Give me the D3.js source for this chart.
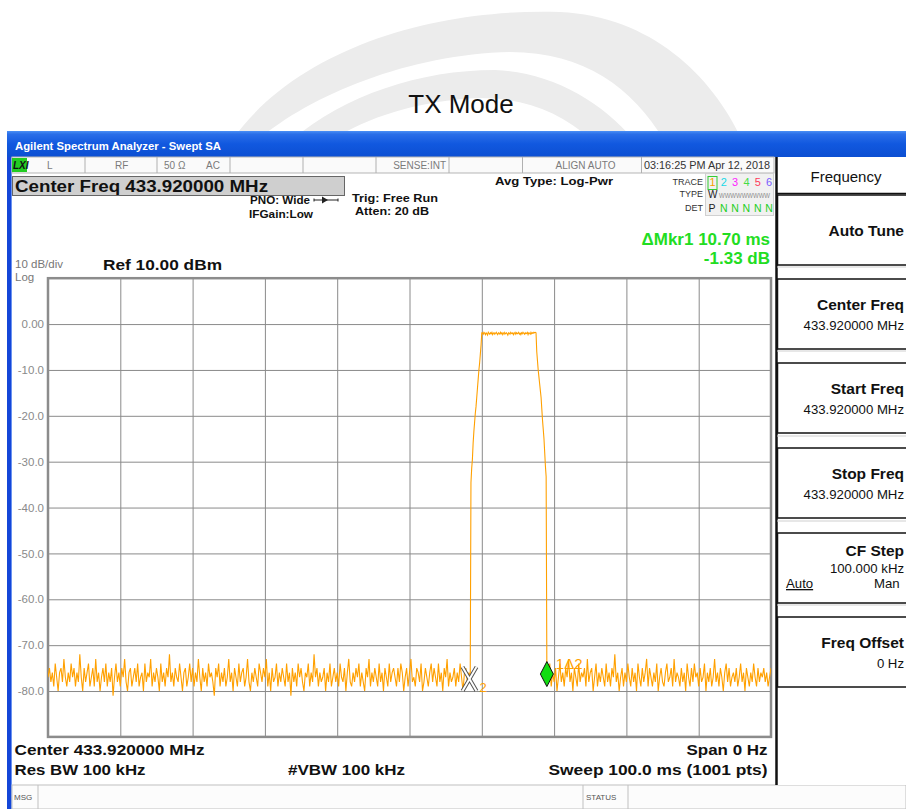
<!DOCTYPE html>
<html><head><meta charset="utf-8">
<script src="https://cdn.jsdelivr.net/npm/d3@7"></script>
<style>
html,body{margin:0;padding:0;background:#fff;}
svg{display:block;font-family:"Liberation Sans",Arial,sans-serif;}
</style></head>
<body>
<svg id="chart" width="906" height="809"></svg>
<script>
// ---------------- DATA ----------------
const sweepTimeMs = 100;           // sweep 100.0 ms, 1001 pts
const yTicks = [0, -10, -20, -30, -40, -50, -60, -70, -80];
const yTickLabels = ["0.00", "-10.0", "-20.0", "-30.0", "-40.0", "-50.0", "-60.0", "-70.0", "-80.0"];
const xGridTicks = [10, 20, 30, 40, 50, 60, 70, 80, 90];

// noise floor before the burst, 0.0 .. 58.4 ms, 0.2 ms apart (dBm)
const noiseBefore = [
-77,-75,-78,-76,-79,-74,-77,-80,-76,-75,
-78,-73,-77,-79,-76,-78,-74,-77,-75,-79,
-76,-78,-72,-77,-80,-75,-78,-76,-74,-79,
-77,-75,-79,-73,-78,-76,-80,-77,-75,-78,
-74,-79,-76,-78,-75,-81,-77,-74,-78,-76,
-79,-75,-77,-73,-78,-80,-76,-75,-79,-77,
-75,-78,-74,-79,-77,-76,-80,-74,-78,-76,
-77,-73,-79,-76,-78,-75,-77,-80,-74,-78,
-76,-79,-75,-77,-72,-78,-76,-79,-75,-77,
-78,-74,-77,-80,-76,-75,-79,-77,-74,-78,
-75,-79,-76,-78,-73,-77,-80,-75,-78,-76,
-79,-74,-77,-76,-78,-81,-75,-77,-74,-79,
-76,-78,-75,-79,-77,-73,-78,-76,-80,-75,
-77,-79,-74,-78,-76,-75,-79,-77,-73,-78,
-80,-76,-78,-75,-77,-79,-74,-76,-78,-75,
-77,-73,-79,-76,-80,-75,-78,-77,-74,-79,
-76,-78,-75,-77,-79,-74,-78,-76,-81,-75,
-78,-76,-79,-74,-77,-75,-78,-80,-76,-77,
-74,-79,-76,-78,-72,-77,-75,-79,-76,-78,
-77,-75,-80,-76,-78,-74,-79,-77,-75,-78,
-76,-79,-74,-77,-78,-75,-80,-76,-73,-78,
-79,-76,-78,-75,-77,-74,-79,-76,-78,-80,
-75,-77,-73,-79,-76,-78,-75,-77,-79,-74,
-78,-76,-80,-75,-77,-79,-74,-78,-76,-75,
-77,-79,-75,-78,-74,-76,-80,-77,-75,-79,
-76,-73,-78,-77,-79,-75,-76,-78,-74,-80,
-78,-75,-77,-79,-76,-74,-78,-75,-77,-79,
-74,-78,-76,-80,-75,-77,-73,-79,-76,-78,
-77,-75,-79,-76,-78,-74,-77,-80,-76,-75,
-78,-76,-77
];
// burst, 58.5 .. 69.0 ms, 0.1 ms apart (dBm)
const burstRise = [-34.6,-31.5,-29.5,-26,-23.5,-21.5,-19.5,-18,-16,-14,-12,-10,-8.5,-6.5,-4.5,-1.9];
const burstTop = [
-1.9,-2.2,-1.8,-2.0,-2.3,-1.9,-2.1,-2.4,-1.8,-2.0,
-2.2,-1.9,-2.1,-1.8,-2.3,-2.0,-1.9,-2.2,-2.0,-1.8,
-2.1,-2.3,-1.9,-2.0,-2.2,-1.8,-2.1,-1.9,-2.3,-2.0,
-1.8,-2.2,-2.0,-1.9,-2.1,-2.4,-1.9,-2.0,-2.2,-1.8,
-2.0,-2.1,-1.9,-2.3,-2.0,-1.8,-2.2,-1.9,-2.1,-2.0,
-1.8,-2.2,-2.0,-2.3,-1.9,-2.1,-1.8,-2.0,-2.2,-1.9,
-2.1,-2.0,-1.8,-2.3,-1.9,-2.0,-2.2,-1.8,-2.1,-1.9,
-2.0,-1.8,-1.9,-1.8,-1.9
];
const burstFall = [-6,-8,-10,-11.5,-13,-14.5,-16,-18.5,-21,-23,-25,-28,-31,-33.3,-76.3];
// noise floor after the burst, 69.2 .. 100.0 ms, 0.2 ms apart (dBm)
const noiseAfter = [
-77,-74,-79,-76,-78,-75,-80,-77,-74,-78,
-76,-79,-75,-77,-73,-78,-76,-80,-75,-77,
-79,-74,-78,-76,-77,-75,-79,-73,-78,-76,
-75,-80,-77,-74,-79,-76,-78,-75,-77,-79,
-74,-78,-76,-79,-75,-77,-72,-78,-76,-80,
-77,-75,-79,-76,-78,-74,-77,-79,-75,-78,
-76,-80,-74,-77,-79,-75,-78,-76,-73,-79,
-75,-77,-79,-76,-78,-74,-80,-77,-75,-78,
-79,-76,-74,-78,-77,-75,-79,-73,-78,-76,
-77,-79,-75,-78,-76,-80,-74,-77,-79,-75,
-78,-74,-77,-76,-79,-75,-78,-77,-74,-80,
-76,-78,-75,-79,-77,-73,-78,-76,-79,-75,
-77,-80,-76,-74,-78,-75,-79,-77,-76,-78,
-75,-79,-77,-74,-78,-76,-80,-75,-77,-79,
-76,-78,-74,-77,-79,-75,-78,-76,-77,-75,
-78,-76,-79,-77,-75
];
// markers
const markerNames = ["2", "1\u03942"];
const markerTimes = [58.3, 69.0];
const markerValues = [-77.4, -76.3];
const deltaText = ["\u0394Mkr1 10.70 ms", "-1.33 dB"];

// soft-key menu
const softKeys = [
  {label: "Auto Tune", value: ""},
  {label: "Center Freq", value: "433.920000 MHz"},
  {label: "Start Freq", value: "433.920000 MHz"},
  {label: "Stop Freq", value: "433.920000 MHz"},
  {label: "CF Step", value: "100.000 kHz"},
  {label: "Freq Offset", value: "0 Hz"}
];
const traceNums = ["1","2","3","4","5","6"];
const traceColors = ["#f5a000","#19d8e6","#ff22ff","#44dd44","#ff3a5a","#7a5cff"];

// ---------------- BUILD ----------------
const svg = d3.select("#chart");
const FONT = '"Liberation Sans", Arial, sans-serif';

// background watermark swooshes
svg.append("path").attr("fill","#ececec")
  .attr("d","M232,140 C300,45 440,8 560,12 C650,16 712,75 742,140 L664,140 C632,88 585,52 510,52 C410,54 310,95 258,140 Z");
svg.append("path").attr("fill","#ececec")
  .attr("d","M292,140 C345,95 420,70 495,70 C550,72 600,100 634,140 L592,140 C560,112 525,98 480,98 C420,100 365,118 332,140 Z");

// title
svg.append("text").attr("x",461).attr("y",113).attr("text-anchor","middle")
  .attr("font-size",26).attr("fill","#111").text("TX Mode");

// window left blue edge
svg.append("rect").attr("x",7).attr("y",131).attr("width",5).attr("height",678).attr("fill","#1446d8");
svg.append("rect").attr("x",11).attr("y",131).attr("width",1).attr("height",678).attr("fill","#6b93f0");

// title bar gradient
const defs = svg.append("defs");
const g1 = defs.append("linearGradient").attr("id","tb").attr("x1",0).attr("y1",0).attr("x2",0).attr("y2",1);
[[0,"#4a8ff5"],[0.12,"#2a6ee8"],[0.5,"#1158df"],[1,"#0c4fd2"]].forEach(s=>g1.append("stop").attr("offset",s[0]).attr("stop-color",s[1]));
svg.append("rect").attr("x",7).attr("y",131).attr("width",899).attr("height",26).attr("fill","url(#tb)");
svg.append("text").attr("x",15).attr("y",150).attr("font-size",11).attr("font-weight","bold")
  .attr("fill","#fff").attr("textLength",206).attr("lengthAdjust","spacingAndGlyphs")
  .text("Agilent Spectrum Analyzer - Swept SA");

// status row
svg.append("rect").attr("x",12).attr("y",157).attr("width",762).attr("height",16).attr("fill","#fafafa").attr("stroke","#b5b5b5").attr("stroke-width",1);
[85,157,230,303,376,449,522.5,641.5].forEach(x=>{
  svg.append("line").attr("x1",x).attr("x2",x).attr("y1",157).attr("y2",173).attr("stroke","#b0b0b0");
});
svg.append("rect").attr("x",12).attr("y",158).attr("width",15).attr("height",14).attr("fill","#22cc22");
svg.append("text").attr("x",13).attr("y",169).attr("font-size",10).attr("font-weight","bold").attr("font-style","italic").attr("fill","#111").text("LXI");
const rowTxt = [["L",47,"start"],["RF",115,"start"],["50 \u03a9",164,"start"],["AC",206,"start"],["SENSE:INT",446,"end"],["ALIGN AUTO",585.5,"middle"]];
rowTxt.forEach(r=>svg.append("text").attr("x",r[1]).attr("y",169).attr("text-anchor",r[2]).attr("font-size",10).attr("fill","#7a7a7a").text(r[0]));
svg.append("text").attr("x",644).attr("y",169).attr("font-size",10).attr("fill","#333")
  .attr("textLength",126).attr("lengthAdjust","spacingAndGlyphs").text("03:16:25 PM Apr 12, 2018");

// center freq box
svg.append("rect").attr("x",12.5).attr("y",176.5).attr("width",332).attr("height",19).attr("fill","#cfcfcf").attr("stroke","#666");
svg.append("text").attr("x",15).attr("y",192).attr("font-size",16).attr("font-weight","bold").attr("fill","#111")
  .attr("textLength",253).attr("lengthAdjust","spacingAndGlyphs").text("Center Freq 433.920000 MHz");

// settings texts
const setT = [["PNO: Wide",250,204,60],["IFGain:Low",249,218,64],["Trig: Free Run",352,201.5,86],["Atten: 20 dB",355,215,74],["Avg Type: Log-Pwr",495,185,118]];
setT.forEach(s=>svg.append("text").attr("x",s[1]).attr("y",s[2]).attr("font-size",11.5).attr("font-weight","bold").attr("fill","#111")
  .attr("textLength",s[3]).attr("lengthAdjust","spacingAndGlyphs").text(s[0]));
// PNO arrow
svg.append("line").attr("x1",314).attr("x2",338).attr("y1",200).attr("y2",200).attr("stroke","#222").attr("stroke-width",1);
svg.append("path").attr("d","M322,196.5 L328,200 L322,203.5 Z").attr("fill","#222");
svg.append("line").attr("x1",314).attr("x2",314).attr("y1",198.5).attr("y2",201.5).attr("stroke","#222");
svg.append("line").attr("x1",338).attr("x2",338).attr("y1",198.5).attr("y2",201.5).attr("stroke","#222");

// trace info box
svg.append("rect").attr("x",705.5).attr("y",173.5).attr("width",68).attr("height",42).attr("fill","#f1f1f1").attr("stroke","#d0d0d0");
[["TRACE",185],["TYPE",197],["DET",211]].forEach(t=>svg.append("text").attr("x",703).attr("y",t[1]).attr("text-anchor","end").attr("font-size",9).attr("fill","#333").text(t[0]));
svg.append("rect").attr("x",708).attr("y",176.5).attr("width",9).attr("height",13).attr("fill","none").attr("stroke","#33cc33");
traceNums.forEach((n,i)=>svg.append("text").attr("x",709.5+i*11.3).attr("y",186).attr("font-size",11).attr("fill",traceColors[i]).text(n));
svg.append("text").attr("x",708).attr("y",198).attr("font-size",10).attr("fill","#222").text("W");
svg.append("text").attr("x",719).attr("y",198).attr("font-size",8).attr("fill","#8a8a8a").attr("textLength",51).attr("lengthAdjust","spacingAndGlyphs").text("WWWWWWWWW");
svg.append("text").attr("x",708.5).attr("y",212).attr("font-size",10.5).attr("fill","#222").text("P");
["N","N","N","N","N"].forEach((n,i)=>svg.append("text").attr("x",720+i*11.3).attr("y",212).attr("font-size",10.5).attr("fill","#1ccf1c").text(n));

// delta marker readout
svg.append("text").attr("x",770).attr("y",245).attr("text-anchor","end").attr("font-size",17).attr("font-weight","bold").attr("fill","#22dd22").text(deltaText[0]);
svg.append("text").attr("x",770).attr("y",264).attr("text-anchor","end").attr("font-size",17).attr("font-weight","bold").attr("fill","#22dd22").text(deltaText[1]);

// scale labels
svg.append("text").attr("x",15).attr("y",268).attr("font-size",11.5).attr("fill","#777").text("10 dB/div");
svg.append("text").attr("x",15).attr("y",281).attr("font-size",11.5).attr("fill","#777").text("Log");
svg.append("text").attr("x",103).attr("y",270).attr("font-size",14.5).attr("font-weight","bold").attr("fill","#111")
  .attr("textLength",119).attr("lengthAdjust","spacingAndGlyphs").text("Ref 10.00 dBm");

// ---------------- PLOT ----------------
const L = 48, R = 771, T = 278.2, B = 736.9;
const x = d3.scaleLinear().domain([0, sweepTimeMs]).range([L, R]);
const y = d3.scaleLinear().domain([-90, 10]).range([B, T]);

const yAxis = d3.axisLeft(y).tickValues(yTicks).tickFormat((d,i)=>yTickLabels[i]).tickSize(-(R-L)).tickPadding(4);
const gy = svg.append("g").attr("transform",`translate(${L},0)`).call(yAxis);
gy.select(".domain").remove();
gy.selectAll("line").attr("stroke","#8a8a8a").attr("stroke-width",1);
gy.selectAll("text").attr("font-size",11.5).attr("fill","#8a8a8a").attr("font-family",FONT);

const xAxis = d3.axisBottom(x).tickValues(xGridTicks).tickFormat("").tickSize(B-T);
const gx = svg.append("g").attr("transform",`translate(0,${T})`).call(xAxis);
gx.select(".domain").remove();
gx.selectAll("line").attr("stroke","#8a8a8a").attr("stroke-width",1);

svg.append("rect").attr("x",L).attr("y",T).attr("width",R-L).attr("height",B-T)
  .attr("fill","none").attr("stroke","#8c8c8c").attr("stroke-width",2.5);

// trace
const trace = [];
noiseBefore.forEach((v,i)=>trace.push({t: Math.round(i*2)/10, v}));
const burst = burstRise.concat(burstTop, burstFall);
burst.forEach((v,i)=>trace.push({t: Math.round(585 + i)/10, v}));
noiseAfter.forEach((v,i)=>trace.push({t: Math.round(692 + i*2)/10, v}));

svg.append("clipPath").attr("id","pc").append("rect").attr("x",L).attr("y",T).attr("width",R-L).attr("height",B-T);
svg.append("path").datum(trace).attr("clip-path","url(#pc)")
  .attr("fill","none").attr("stroke","#ffa000").attr("stroke-width",1.1)
  .attr("d", d3.line().x(d=>x(d.t)).y(d=>y(d.v)));

// marker 2 : X
const m2x = x(markerTimes[0]), m2y = y(markerValues[0]);
const xd = `M${m2x-7},${m2y-12} L${m2x+7},${m2y+12} M${m2x+7},${m2y-12} L${m2x-7},${m2y+12}`;
svg.append("path").attr("d",xd).attr("stroke","#555").attr("stroke-width",4).attr("fill","none");
svg.append("path").attr("d",xd).attr("stroke","#fff").attr("stroke-width",2).attr("fill","none");
svg.append("text").attr("x",m2x+10).attr("y",m2y+13).attr("font-size",13).attr("fill","#ffa000").text(markerNames[0]);

// marker 1 : diamond
const m1x = x(markerTimes[1]), m1y = y(markerValues[1]);
svg.append("path").attr("d",`M${m1x},${m1y-12.5} L${m1x+6.5},${m1y} L${m1x},${m1y+12.5} L${m1x-6.5},${m1y} Z`)
  .attr("fill","#11dd11").attr("stroke","#111").attr("stroke-width",1);
svg.append("text").attr("x",m1x+9).attr("y",m1y-5).attr("font-size",15).attr("fill","#ffa000").text(markerNames[1]);

// bottom annotations
const botT = [["Center 433.920000 MHz",14.5,755,190,"start"],["Span 0 Hz",767.5,755,81,"end"],
  ["Res BW 100 kHz",14.5,775,131,"start"],["#VBW 100 kHz",288,775,117,"start"],["Sweep  100.0 ms (1001 pts)",767.5,775,219,"end"]];
botT.forEach(b=>svg.append("text").attr("x",b[1]).attr("y",b[2]).attr("text-anchor",b[4]).attr("font-size",15).attr("font-weight","bold").attr("fill","#111")
  .attr("textLength",b[3]).attr("lengthAdjust","spacingAndGlyphs").text(b[0]));

// status bar
svg.append("rect").attr("x",12).attr("y",785).attr("width",894).attr("height",24).attr("fill","#fcfcfc").attr("stroke","#c0c0c0");
[38,583,628].forEach(xx=>svg.append("line").attr("x1",xx).attr("x2",xx).attr("y1",785).attr("y2",809).attr("stroke","#c0c0c0"));
svg.append("text").attr("x",14).attr("y",800).attr("font-size",8).attr("fill","#555").text("MSG");
svg.append("text").attr("x",586).attr("y",800).attr("font-size",8).attr("fill","#555").text("STATUS");

// ---------------- SOFT KEY PANEL ----------------
svg.append("rect").attr("x",777).attr("y",157).attr("width",140).attr("height",628).attr("fill","#fff");
svg.append("line").attr("x1",776.5).attr("x2",776.5).attr("y1",157).attr("y2",785).attr("stroke","#111").attr("stroke-width",2.5);
svg.append("line").attr("x1",777).attr("x2",906).attr("y1",193.5).attr("y2",193.5).attr("stroke","#111").attr("stroke-width",1.5);
svg.append("text").attr("x",846).attr("y",181.5).attr("text-anchor","middle").attr("font-size",15).attr("fill","#111").text("Frequency");

const keyTop = [195, 279, 363, 448, 533, 617];
softKeys.forEach((k,i)=>{
  const t = keyTop[i];
  svg.append("rect").attr("x",777.5).attr("y",t).attr("width",140).attr("height",70).attr("fill","#fff").attr("stroke","#111").attr("stroke-width",1.5);
  if (i>0) svg.append("line").attr("x1",777).attr("x2",906).attr("y1",t-12).attr("y2",t-12).attr("stroke","#cfcfcf");
  const hasVal = k.value !== "";
  svg.append("text").attr("x",904).attr("y", hasVal ? t + (i===4?23:31) : t+41).attr("text-anchor","end")
    .attr("font-size",15.5).attr("font-weight","bold").attr("fill","#111").text(k.label);
  if (hasVal) svg.append("text").attr("x",904).attr("y", t + (i===4?40:51)).attr("text-anchor","end")
    .attr("font-size",13.2).attr("fill","#111").text(k.value);
});
svg.append("text").attr("x",786).attr("y",588).attr("font-size",13.2).attr("fill","#111").attr("text-decoration","underline").text("Auto");
svg.append("text").attr("x",874).attr("y",588).attr("font-size",13.2).attr("fill","#111").text("Man");
</script>
</body></html>
